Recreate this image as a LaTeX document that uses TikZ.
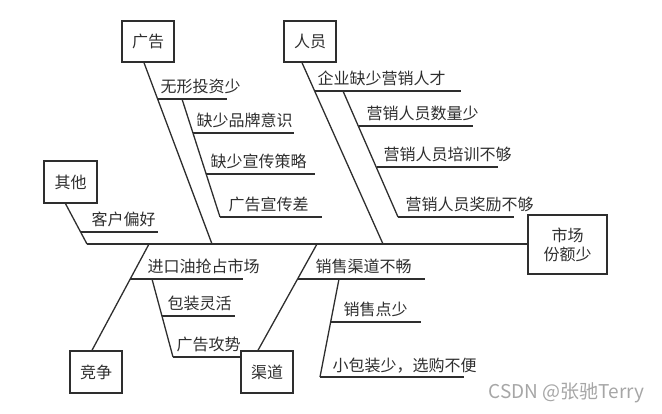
\documentclass[tikz,border=0pt]{standalone}
\usepackage{fontspec}
\setmainfont{Noto Sans CJK SC}
\definecolor{bone}{HTML}{2E2E2E}
\definecolor{wmark}{HTML}{A6A6A6}
\tikzset{
  cause/.style={draw=bone, line width=1.4pt, minimum width=52pt, minimum height=41pt,
    inner sep=0pt, font=\fontsize{16}{19}\selectfont},
  why/.style={anchor=base west, inner sep=0pt, font=\fontsize{16}{19}\selectfont},
}
\begin{document}
\begin{tikzpicture}[x=1pt, y=-1pt, color=bone, line width=1.3pt]
  \useasboundingbox (0,0) rectangle (662,413);
  % head and spine
  \node[cause, minimum width=79pt, minimum height=59pt, align=center] (market) at (567.5,244.5) {市场\\份额少};
  \coordinate (tail) at (87,244);
  \draw (tail) -- (tail -| market.west);
  % advertising
  \node[cause] (ad) at (148,41.5) {广告};
  \coordinate (ad0) at (212,244);
  \draw ([xshift=-4pt]ad.south) -- (ad0);
  \coordinate (ad1) at (157.8,99);   \coordinate (ad1e) at (227,99);
  \coordinate (ad2) at (193,133);    \coordinate (ad2e) at (294,133);
  \coordinate (ad3) at (206,174);    \coordinate (ad3e) at (315,174);
  \coordinate (ad4) at (220,217);    \coordinate (ad4e) at (322,217);
  \draw (ad1) -- (ad1e) (ad2) -- (ad2e) (ad3) -- (ad3e) (ad4) -- (ad4e);
  \draw (182,99) -- (ad4);
  \node[why] (ad1t) at (160,92) {无形投资少};
  \node[why] (ad2t) at (196,126) {缺少品牌意识};
  \node[why] (ad3t) at (210,167) {缺少宣传策略};
  \node[why] (ad4t) at (228,210) {广告宣传差};
  % staff
  \node[cause] (staff) at (310,41.5) {人员};
  \coordinate (st0) at (383,244);
  \draw ([xshift=-8pt]staff.south) -- (st0);
  \coordinate (st1) at (315,91);     \coordinate (st1e) at (461,91);
  \coordinate (st2) at (358.5,126);  \coordinate (st2e) at (473,126);
  \coordinate (st3) at (377,167);    \coordinate (st3e) at (498,167);
  \coordinate (st4) at (398,217);    \coordinate (st4e) at (514,217);
  \draw (st1) -- (st1e) (st2) -- (st2e) (st3) -- (st3e) (st4) -- (st4e);
  \draw (343,91) -- (st4);
  \node[why] (st1t) at (317,84) {企业缺少营销人才};
  \node[why] (st2t) at (366,119) {营销人员数量少};
  \node[why] (st3t) at (383,160) {营销人员培训不够};
  \node[why] (st4t) at (405,210) {营销人员奖励不够};
  % other
  \node[cause, minimum width=53pt, minimum height=42pt] (other) at (70.5,182) {其他};
  \draw ([xshift=-5pt]other.south) -- (tail);
  \coordinate (ot1) at (80.6,232);   \coordinate (ot1e) at (158,232);
  \draw (ot1) -- (ot1e);
  \node[why] (ot1t) at (91,225) {客户偏好};
  % competition
  \node[cause, minimum height=42pt] (rival) at (96,372) {竞争};
  \coordinate (rv0) at (149,244);
  \draw ([xshift=-4pt]rival.north) -- (rv0);
  \coordinate (rv1) at (130.4,279);  \coordinate (rv1e) at (243,279);
  \coordinate (rv2) at (162,316);    \coordinate (rv2e) at (235,316);
  \coordinate (rv3) at (173,357);    \coordinate (rv3e) at (240,357);
  \draw (rv1) -- (rv1e) (rv2) -- (rv2e) (rv3) -- (rv3e);
  \draw (152,279) -- (rv3);
  \node[why] (rv1t) at (147,272) {进口油抢占市场};
  \node[why] (rv2t) at (167,309) {包装灵活};
  \node[why] (rv3t) at (176,350) {广告攻势};
  % channel
  \node[cause, minimum height=42pt] (chan) at (267,372) {渠道};
  \coordinate (ch0) at (317,244);
  \draw ([xshift=-9pt]chan.north) -- (ch0);
  \coordinate (ch1) at (297.7,279);  \coordinate (ch1e) at (425,279);
  \coordinate (ch2) at (330.7,322);  \coordinate (ch2e) at (421,322);
  \coordinate (ch3) at (320,377);    \coordinate (ch3e) at (464,377);
  \draw (ch1) -- (ch1e) (ch2) -- (ch2e) (ch3) -- (ch3e);
  \draw (339,279) -- (ch3);
  \node[why] (ch1t) at (315,272) {销售渠道不畅};
  \node[why] (ch2t) at (343,315) {销售点少};
  \node[why] (ch3t) at (332,371) {小包装少，选购不便};
  % watermark
  \node[anchor=base west, inner sep=0pt, text=wmark, font=\fontsize{19}{21}\selectfont] (wm) at (488,398) {CSDN @张驰Terry};
\end{tikzpicture}
\end{document}
